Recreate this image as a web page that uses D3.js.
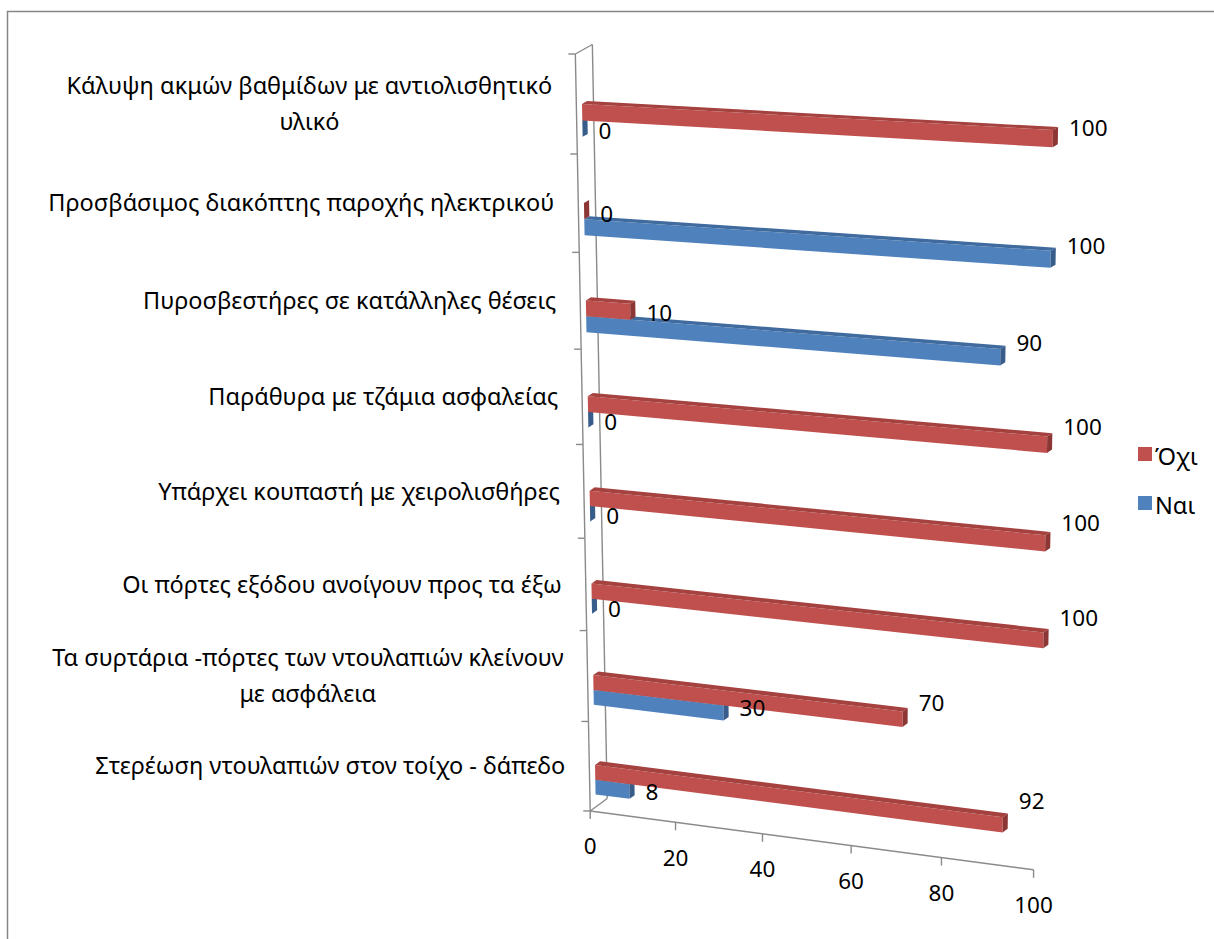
<!DOCTYPE html>
<html><head><meta charset="utf-8">
<script src="https://cdn.jsdelivr.net/npm/d3@7"></script>
<style>
body{margin:0;background:#fff}
svg{display:block}
text{font-family:"Noto Sans",sans-serif;fill:#000}
</style>
</head><body>
<svg id="chart" width="1214" height="939"></svg>
<script>
// ---------- data ----------
const categories = [
  "Κάλυψη ακμών βαθμίδων με αντιολισθητικό\nυλικό",
  "Προσβάσιμος διακόπτης παροχής ηλεκτρικού",
  "Πυροσβεστήρες σε κατάλληλες θέσεις",
  "Παράθυρα με τζάμια ασφαλείας",
  "Υπάρχει κουπαστή με χειρολισθήρες",
  "Οι πόρτες εξόδου ανοίγουν προς τα έξω",
  "Τα συρτάρια -πόρτες των ντουλαπιών κλείνουν\nμε ασφάλεια",
  "Στερέωση ντουλαπιών στον τοίχο - δάπεδο"
];
const seriesNames = ["Όχι", "Ναι"];
const valuesOxi = [100, 0, 10, 100, 100, 100, 70, 92];
const valuesNai = [0, 100, 90, 0, 0, 0, 30, 8];
const xTicks = [0, 20, 40, 60, 80, 100];

// ---------- style ----------
const colors = {
  "Όχι": {front: "#C0504D", top: "#A5423F", end: "#8C3735"},
  "Ναι": {front: "#4F81BD", top: "#406B9F", end: "#385D8A"}
};
const FONT_CAT = 23.5;
const FONT_NUM = 22.5;

// ---------- scales (normalised scene coordinates) ----------
const x = d3.scaleLinear().domain([0, 100]).range([0, 1]);
const y = d3.scaleBand().domain(categories).range([0, 8]);
const ySub = d3.scaleBand().domain(seriesNames).range([0.53, 0.86]);

// ---------- perspective projection (homography) ----------
function solve(A, b) {
  const n = b.length;
  const M = A.map((r, i) => [...r, b[i]]);
  for (let c = 0; c < n; c++) {
    let p = c;
    for (let r = c + 1; r < n; r++) if (Math.abs(M[r][c]) > Math.abs(M[p][c])) p = r;
    [M[c], M[p]] = [M[p], M[c]];
    for (let r = 0; r < n; r++) {
      if (r === c) continue;
      const f = M[r][c] / M[c][c];
      for (let k = c; k <= n; k++) M[r][k] -= f * M[c][k];
    }
  }
  return M.map((r, i) => r[n] / r[i]);
}
function homography(src, dst) {
  const A = [], b = [];
  src.forEach(([sx, sy], i) => {
    const [X, Y] = dst[i];
    A.push([sx, sy, 1, 0, 0, 0, -X * sx, -X * sy]); b.push(X);
    A.push([0, 0, 0, sx, sy, 1, -Y * sx, -Y * sy]); b.push(Y);
  });
  const h = solve(A, b);
  return (s, t) => {
    const w = h[6] * s + h[7] * t + 1;
    return [(h[0] * s + h[1] * t + h[2]) / w, (h[3] * s + h[4] * t + h[5]) / w];
  };
}
const H = homography(
  [[0, 0.53], [1, 0.53], [0, 7.53], [1, 7.53]],
  [[582, 104], [1053, 130], [595, 765], [1040, 822]]
);
const ZF = 0.33, ZB = 0.63;
function depthVec(t) { return [17, -9.5 - 3 * t / 8]; }
function proj(s, t, z) {
  const p = H(s, t), d = depthVec(t);
  return [p[0] + (z - ZF) * d[0], p[1] + (z - ZF) * d[1]];
}

const svg = d3.select("#chart");
const line = d3.line();

// outer border
svg.append("rect").attr("x", 7.5).attr("y", 11.5).attr("width", 1230).attr("height", 960)
  .attr("fill", "none").attr("stroke", "#868686").attr("stroke-width", 1.5);

// ---------- walls / axes ----------
const gAxis = svg.append("g").attr("stroke", "#8a8a8a").attr("stroke-width", 1.4).attr("fill", "none");
gAxis.append("path").attr("d", line([proj(0, 0, 0), proj(0, 8, 0)]));
gAxis.append("path").attr("d", line([proj(0, 0, 1), proj(0, 8, 1)]));
gAxis.append("path").attr("d", line([proj(0, 0, 0), proj(0, 0, 1)]));
gAxis.append("path").attr("d", line([proj(0, 8, 0), proj(0, 8, 1)]));
gAxis.append("path").attr("d", line([proj(0, 8, 0), proj(1, 8, 0)]));
// category ticks (band boundaries)
d3.range(0, 9).forEach(k => {
  const p = proj(0, k, 0);
  gAxis.append("path").attr("d", line([[p[0] - 7, p[1]], p]));
});
// value ticks
xTicks.forEach(v => {
  const p = proj(x(v), 8, 0);
  gAxis.append("path").attr("d", line([p, [p[0], p[1] + 8]]));
});
// value tick labels
svg.append("g").selectAll("text").data(xTicks).join("text")
  .attr("x", v => proj(x(v), 8, 0)[0])
  .attr("y", v => proj(x(v), 8, 0)[1] + 35)
  .attr("text-anchor", "middle").attr("dominant-baseline", "central")
  .attr("font-size", FONT_NUM).text(v => v);

// category labels
const gCat = svg.append("g");
categories.forEach(c => {
  const tc = y(c) + y.bandwidth() / 2;
  const p = proj(0, tc, 0);
  const right = p[0] - 24;
  const lines = c.split("\n");
  const g = gCat.append("g");
  const texts = lines.map((ln, i) => g.append("text")
    .attr("y", p[1] - 1 + (i - (lines.length - 1) / 2) * 36)
    .attr("dominant-baseline", "central").attr("text-anchor", "middle")
    .attr("font-size", FONT_CAT).text(ln));
  const maxW = d3.max(texts, t => t.node().getComputedTextLength());
  texts.forEach(t => t.attr("x", right - maxW / 2));
});

// ---------- bars ----------
const gBars = svg.append("g");
const labels = [];
categories.forEach((c, ci) => {
  // draw lower series first (Ναι), then upper (Όχι)
  [["Ναι", valuesNai[ci]], ["Όχι", valuesOxi[ci]]].forEach(([sName, v]) => {
    const t0 = y(c) + ySub(sName), t1 = t0 + ySub.bandwidth();
    const s = x(v);
    const col = colors[sName];
    const g = gBars.append("g");
    if (v > 0) {
      g.append("path").attr("fill", col.front)
        .attr("d", line([proj(0, t0, ZF), proj(s, t0, ZF), proj(s, t1, ZF), proj(0, t1, ZF)]) + "Z");
      g.append("path").attr("fill", col.top)
        .attr("d", line([proj(0, t0, ZF), proj(s, t0, ZF), proj(s, t0, ZB), proj(0, t0, ZB)]) + "Z");
    }
    g.append("path").attr("fill", col.end)
      .attr("d", line([proj(s, t0, ZF), proj(s, t1, ZF), proj(s, t1, ZB), proj(s, t0, ZB)]) + "Z");
    const tc = (t0 + t1) / 2;
    labels.push({
      v,
      x: proj(s, tc, ZB)[0] + 11,
      y: (proj(0, tc, ZF)[1] + proj(s, tc, ZF)[1]) / 2 + 2
    });
  });
});
svg.append("g").selectAll("text").data(labels).join("text")
  .attr("x", d => d.x).attr("y", d => d.y)
  .attr("dominant-baseline", "central").attr("font-size", FONT_NUM).text(d => d.v);

// ---------- legend ----------
const legend = svg.append("g");
seriesNames.forEach((n, i) => {
  const yy = 447 + i * 49;
  legend.append("rect").attr("x", 1138).attr("y", yy).attr("width", 14).attr("height", 14)
    .attr("fill", colors[n].front);
  legend.append("text").attr("x", 1155).attr("y", yy + 9)
    .attr("dominant-baseline", "central").attr("font-size", FONT_CAT).text(n);
});
</script>
</body></html>
